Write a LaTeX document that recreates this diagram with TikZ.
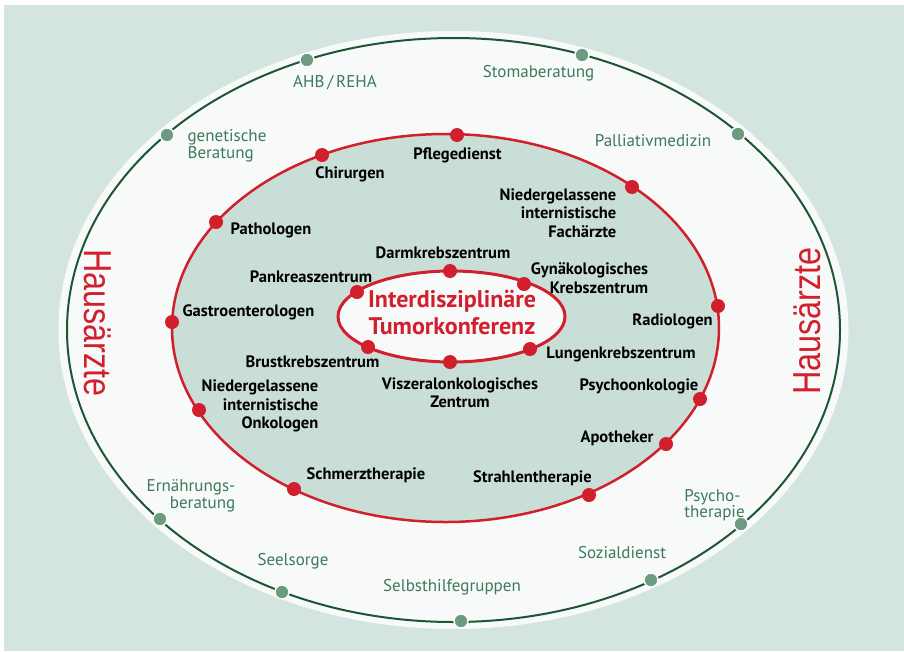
\documentclass[tikz,border=0pt]{standalone}
\usepackage{fontspec}
\setmainfont{PT Sans}
\newfontfamily\hafont{Liberation Sans}
\definecolor{bgc}{HTML}{D4E5DF}
\definecolor{midc}{HTML}{C9DED6}
\definecolor{outc}{HTML}{F8FAF9}
\definecolor{redc}{HTML}{D21F2E}
\definecolor{grline}{HTML}{1E5634}
\definecolor{grdot}{HTML}{6C9B80}
\definecolor{grtext}{HTML}{3D7A5B}
\tikzset{
  rdot/.style={circle,fill=redc,inner sep=0pt,minimum size=14pt},
  gdot/.style={circle,fill=grdot,draw=outc,line width=1.5pt,inner sep=0pt,minimum size=14pt},
  blab/.style={text=black,font=\fontsize{16.5}{18.5}\selectfont\bfseries,inner sep=0pt},
  glab/.style={text=grtext,font=\fontsize{17}{16.5}\selectfont,inner sep=0pt},
  hlab/.style={text=redc,font=\fontsize{39}{40}\selectfont\hafont,inner sep=0pt}
}
\begin{document}
\begin{tikzpicture}[x=1pt,y=-1pt]
\useasboundingbox (0,0) rectangle (904,651);
\fill[white] (0,0) rectangle (904,651);
\fill[bgc] (4,5) rectangle (904,651);
% outer white ellipse
\fill[outc] (453.5,330) ellipse [x radius=395pt, y radius=299pt];
\draw[grline,line width=2pt] (453.5,330) ellipse [x radius=386.5pt, y radius=292pt];
% middle ellipse
\draw[redc,fill=midc,line width=2.5pt] (445.5,328) ellipse [x radius=273.5pt, y radius=194pt];
% inner ellipse
\draw[redc,fill=outc,line width=3pt] (451.5,316.5) ellipse [x radius=113.5pt, y radius=45.5pt];
\node[text=redc,font=\fontsize{24}{27}\selectfont\bfseries,align=center,inner sep=0pt] (itk) at (452,313) {Interdisziplinäre\\Tumorkonferenz};

% green dots
\node[gdot] (g1) at (307,60) {};
\node[gdot] (g2) at (582,55) {};
\node[gdot] (g3) at (167,135) {};
\node[gdot] (g4) at (738,134) {};
\node[gdot] (g5) at (160,519) {};
\node[gdot] (g6) at (282,592) {};
\node[gdot] (g7) at (461,621) {};
\node[gdot] (g8) at (651,580) {};
\node[gdot] (g9) at (741,524) {};

% red dots on middle ellipse
\node[rdot] (r1) at (457,135) {};
\node[rdot] (r2) at (322,155) {};
\node[rdot] (r3) at (632,187) {};
\node[rdot] (r4) at (216,222) {};
\node[rdot] (r5) at (172,322) {};
\node[rdot] (r6) at (718,306) {};
\node[rdot] (r7) at (700,399) {};
\node[rdot] (r8) at (199,410) {};
\node[rdot] (r9) at (666,444) {};
\node[rdot] (r10) at (294,489) {};
\node[rdot] (r11) at (589,495) {};

% red dots on inner ellipse
\node[rdot] (i1) at (450,271) {};
\node[rdot] (i2) at (357,292) {};
\node[rdot] (i3) at (524,284) {};
\node[rdot] (i4) at (368,347) {};
\node[rdot] (i5) at (530,349) {};
\node[rdot] (i6) at (450,362) {};

% green labels
\node[glab] (l1) at (335,83) {AHB\,/\,REHA};
\node[glab] (l2) at (538.5,73) {Stomaberatung};
\node[glab,align=left] (l3) at (227,146) {genetische\\Beratung};
\node[glab] (l4) at (653,141) {Palliativmedizin};
\node[glab,align=right] (l5) at (191,496) {Ernährungs-\\beratung};
\node[glab] (l6) at (293,561) {Seelsorge};
\node[glab] (l7) at (452,587) {Selbsthilfegruppen};
\node[glab] (l8) at (622,553) {Sozialdienst};
\node[glab,align=left] (l9) at (714.5,505) {Psycho-\\therapie};

% black labels
\node[blab] (b1) at (457.5,155) {Pflegedienst};
\node[blab] (b2) at (350,174) {Chirurgen};
\node[blab] (b3) at (271,230) {Pathologen};
\node[blab,align=right] (b4) at (558,213) {Niedergelassene\\internistische\\Fachärzte};
\node[blab] (b5) at (443,253) {Darmkrebszentrum};
\node[blab] (b6) at (311,277) {Pankreaszentrum};
\node[blab,align=right] (b7) at (589.5,278) {Gynäkologisches\\Krebszentrum};
\node[blab] (b8) at (248.5,312) {Gastroenterologen};
\node[blab] (b9) at (672.5,321) {Radiologen};
\node[blab] (b10) at (312.5,362) {Brustkrebszentrum};
\node[blab] (b11) at (621,354) {Lungenkrebszentrum};
\node[blab,align=center] (b12) at (460,392.5) {Viszeralonkologisches\\Zentrum};
\node[blab] (b13) at (639,386) {Psychoonkologie};
\node[blab,align=right] (b14) at (260,406) {Niedergelassene\\internistische\\Onkologen};
\node[blab] (b15) at (617,438) {Apotheker};
\node[blab] (b16) at (532.5,478) {Strahlentherapie};
\node[blab] (b17) at (366,475) {Schmerztherapie};

% Hausärzte
\node[hlab,rotate=-90] (h1) at (98,323) {\scalebox{0.83}[1]{Hausärzte}};
\node[hlab,rotate=90] (h2) at (807,321) {\scalebox{0.83}[1]{Hausärzte}};
\end{tikzpicture}
\end{document}
